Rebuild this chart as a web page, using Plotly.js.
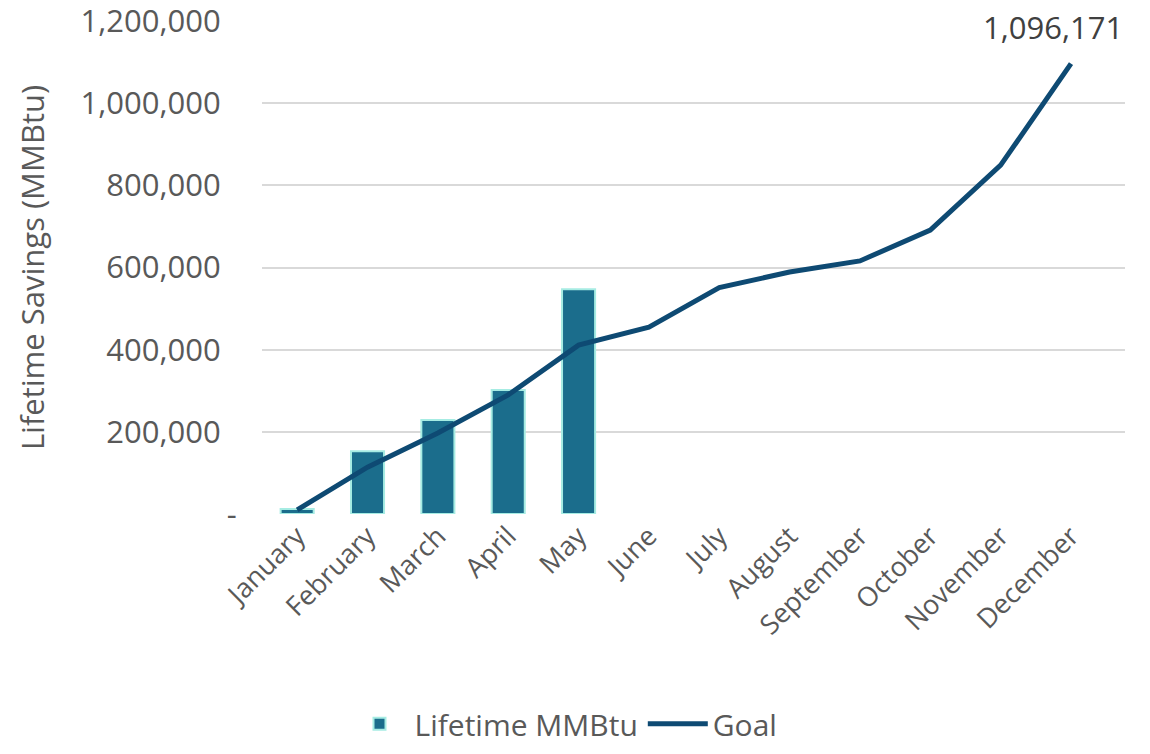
<!DOCTYPE html>
<html>
<head>
<meta charset="utf-8">
<script src="https://cdn.plot.ly/plotly-3.0.1.min.js"></script>
<style>html,body{margin:0;padding:0;background:#fff;}#chart{width:1150px;height:754px;}</style>
</head>
<body>
<div id="chart"></div>
<script>
const months = ["January","February","March","April","May","June","July","August","September","October","November","December"];
const lifetimeMonths = ["January","February","March","April","May"];
const lifetimeMMBtu = [12000, 153000, 229000, 302000, 547000];
const goal = [10000, 114000, 197000, 290000, 411000, 455000, 551000, 589000, 616000, 691000, 849000, 1096171];
const yTickVals = [0, 200000, 400000, 600000, 800000, 1000000, 1200000];
const yTickText = ["-", "200,000", "400,000", "600,000", "800,000", "1,000,000", "1,200,000"];
const goalLabel = "1,096,171";

const FONT = "Open Sans, sans-serif";
const GRAY = "#595959";
const PAD = "\u00a0\u00a0\u00a0\u00a0\u00a0";

const traces = [
  {
    type: "bar", name: "Lifetime MMBtu", x: lifetimeMonths, y: lifetimeMMBtu,
    marker: {color: "#1b6d8c", line: {color: "#a6ece3", width: 2}},
    hoverinfo: "x+y"
  },
  {
    type: "scatter", mode: "lines", name: "Goal", x: months, y: goal,
    line: {color: "#0e4a73", width: 5}
  }
];

const layout = {
  width: 1150, height: 754,
  margin: {l: 262, r: 25, t: 21, b: 240},
  paper_bgcolor: "#fff", plot_bgcolor: "#fff",
  font: {family: FONT, color: GRAY, size: 29},
  bargap: 0.53,
  showlegend: true,
  legend: {orientation: "h", x: 0.49, xanchor: "center", xref: "container",
           y: 0.04, yanchor: "middle", yref: "container",
           font: {size: 30, color: GRAY}, traceorder: "normal", itemwidth: 60},
  xaxis: {
    type: "category", categoryorder: "array", categoryarray: months,
    tickangle: -45, tickfont: {size: 27, color: GRAY},
    showgrid: false, zeroline: false, showline: false, ticks: "",
    automargin: false
  },
  yaxis: {
    range: [0, 1200000], tickvals: yTickVals,
    ticktext: yTickText.map((t, i) => t + (i === 0 ? PAD.slice(0, 3) : PAD)),
    tickfont: {size: 31, color: GRAY}, ticklabeloverflow: "allow",
    gridcolor: "#d9d9d9", gridwidth: 2, zeroline: false, showline: false,
    ticks: "", ticklen: 0,
    title: {text: "Lifetime Savings (MMBtu)", font: {size: 31, color: GRAY}, standoff: 26},
    automargin: false
  },
  annotations: [{
    x: "December", y: goal[goal.length - 1], text: goalLabel,
    showarrow: false, yanchor: "bottom", yshift: 14, xshift: -18,
    font: {size: 31, color: "#404040"}
  }]
};

Plotly.newPlot("chart", traces, layout, {displayModeBar: false, staticPlot: true});
</script>
</body>
</html>
